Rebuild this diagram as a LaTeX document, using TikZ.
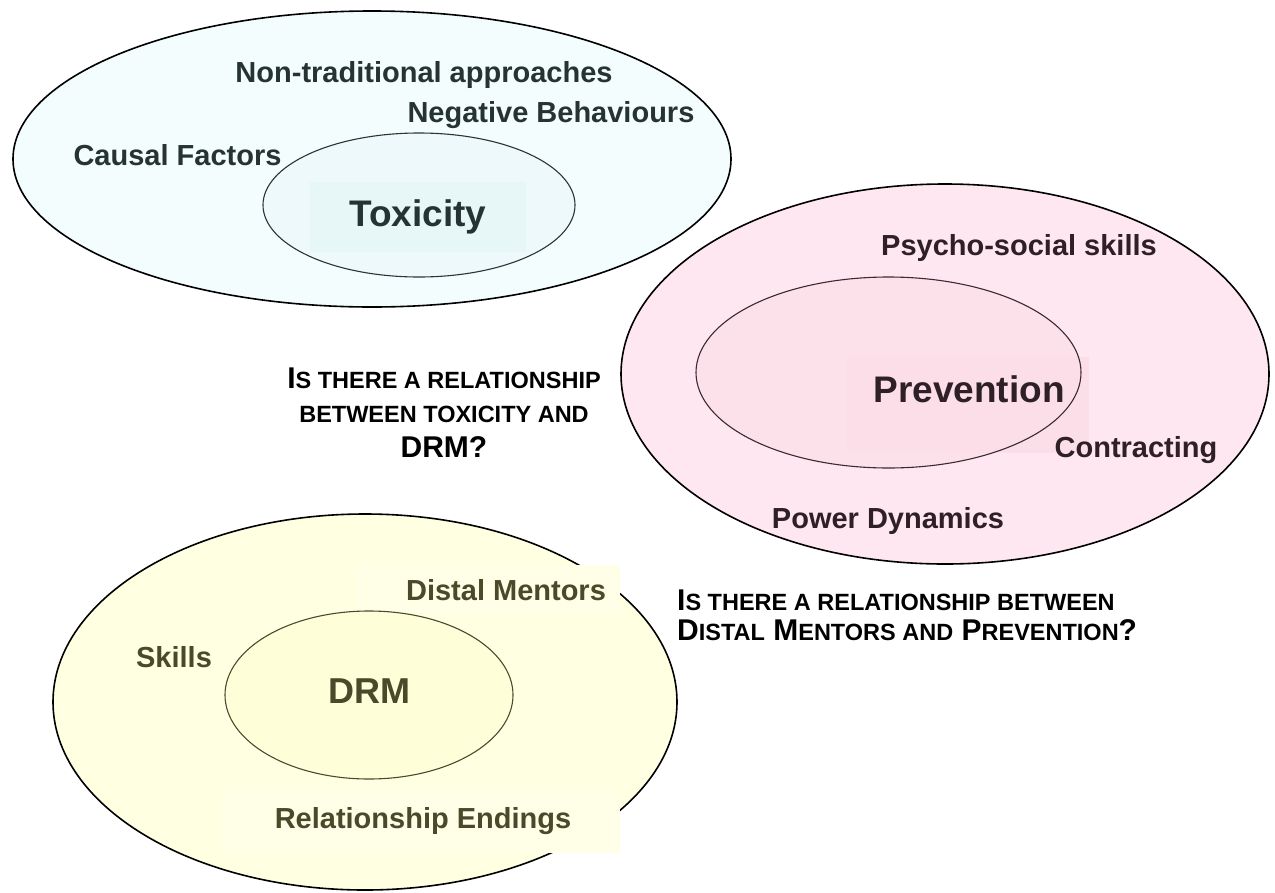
\documentclass[tikz,border=0pt]{standalone}
\usepackage{fontspec}
\setmainfont{Liberation Sans}
\usetikzlibrary{shapes.geometric}
\definecolor{cyout}{HTML}{F3FDFE}
\definecolor{cyin}{HTML}{EDF9FA}
\definecolor{cyrect}{HTML}{E7F7F7}
\definecolor{cytext}{HTML}{263333}
\definecolor{cyline}{HTML}{2B3535}
\definecolor{pkout}{HTML}{FEE7F0}
\definecolor{pkin}{HTML}{FDE1EA}
\definecolor{pkrect}{HTML}{FCDEE8}
\definecolor{pktext}{HTML}{2E2026}
\definecolor{pkline}{HTML}{3B2A30}
\definecolor{ylout}{HTML}{FFFFE2}
\definecolor{ylin}{HTML}{FEFED9}
\definecolor{ylrect}{HTML}{FFFFE8}
\definecolor{yltext}{HTML}{4A4A2B}
\definecolor{ylline}{HTML}{4A4A2C}
\newcommand\qbig[1]{{\fontsize{30}{34}\selectfont #1}}
\newcommand\qsml[1]{{\fontsize{23.5}{28}\selectfont #1}}
\tikzset{
  outerell/.style={ellipse, draw=black, line width=1.6pt, inner sep=0pt},
  innerell/.style={ellipse, inner sep=0pt},
  lbl/.style={anchor=base, inner sep=0pt, font=\bfseries\fontsize{29}{34}\selectfont},
  bigl/.style={anchor=base, inner sep=0pt, font=\bfseries\fontsize{37}{44}\selectfont},
  shade/.style={inner sep=0pt, draw=none, anchor=north west},
  quest/.style={inner sep=0pt, font=\bfseries\fontsize{30}{34.5}\selectfont, text=black}
}
\begin{document}
\begin{tikzpicture}[x=1pt, y=-1pt]
\useasboundingbox (0,0) rectangle (1275,892);
% ---------- Toxicity ----------
\node[outerell, fill=cyout, minimum width=718, minimum height=296] (tout) at (372,159) {};
\node[innerell, fill=cyin, minimum width=312, minimum height=144] (tin) at (419,205) {};
\node[shade, fill=cyrect, minimum width=216, minimum height=70] (trect) at (310,182) {};
\draw[cyline, line width=1.1pt] (tin.center) ellipse [x radius=156, y radius=72];
\node[lbl, text=cytext] (nontrad) at (424,82) {Non-traditional approaches};
\node[lbl, text=cytext] (negbeh) at (551,122) {Negative Behaviours};
\node[lbl, text=cytext] (causal) at (177.5,165) {Causal Factors};
\node[bigl, text=cytext] (tox) at (418,226) {Toxicity};
% ---------- Prevention ----------
\node[outerell, fill=pkout, minimum width=648, minimum height=380] (pout) at (945,374) {};
\node[innerell, fill=pkin, minimum width=385, minimum height=191] (pin) at (888.5,372.5) {};
\node[shade, fill=pkrect, minimum width=242, minimum height=96] (prect) at (847,357) {};
\draw[pkline, line width=1.1pt] (pin.center) ellipse [x radius=192.5, y radius=95.5];
\node[lbl, text=pktext] (psycho) at (1019,255) {Psycho-social skills};
\node[bigl, text=pktext] (prev) at (969,402) {Prevention};
\node[lbl, text=pktext] (contr) at (1136,457) {Contracting};
\node[lbl, text=pktext] (power) at (888,528) {Power Dynamics};
% ---------- DRM ----------
\node[outerell, fill=ylout, minimum width=624, minimum height=376] (yout) at (365,702) {};
\node[shade, fill=ylrect, minimum width=264, minimum height=50] (yrect1) at (356,565) {};
\node[shade, fill=ylrect, minimum width=399, minimum height=63] (yrect2) at (221,790) {};
\node[innerell, fill=ylin, draw=ylline, line width=1.1pt, minimum width=288, minimum height=168] (yin) at (369,695) {};
\node[lbl, text=yltext] (distal) at (506,600) {Distal Mentors};
\node[lbl, text=yltext] (skills) at (174,667) {Skills};
\node[bigl, text=yltext, font=\bfseries\fontsize{36}{42}\selectfont] (drm) at (369.5,703) {DRM};
\node[lbl, text=yltext] (relend) at (423,828) {Relationship Endings};
% ---------- Questions ----------
\node[quest, anchor=base] (q1) at (444,388) {\begin{tabular}[t]{@{}c@{}}
\qbig{I}\qsml{S THERE A RELATIONSHIP}\\
\qsml{BETWEEN TOXICITY AND}\\
\qbig{DRM?}
\end{tabular}};
\node[quest, anchor=base west, font=\bfseries\fontsize{30}{30}\selectfont] (q2) at (677,610) {\begin{tabular}[t]{@{}l@{}}
\qbig{I}\qsml{S THERE A RELATIONSHIP BETWEEN}\\
\qbig{D}\qsml{ISTAL} \qbig{M}\qsml{ENTORS AND} \qbig{P}\qsml{REVENTION}\qbig{?}
\end{tabular}};
\end{tikzpicture}
\end{document}
